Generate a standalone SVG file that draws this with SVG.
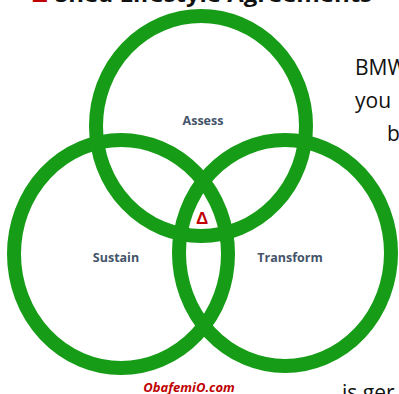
<svg xmlns="http://www.w3.org/2000/svg" width="399" height="394" viewBox="0 0 399 394">
<style>
.ring{fill:none;stroke:#169c16;stroke-width:14}
.lbl{font-family:"Open Sans","Liberation Sans",sans-serif;font-weight:bold;font-size:12.5px;fill:#44546a;text-anchor:middle}
.body{font-family:"Open Sans","Liberation Sans",sans-serif;font-size:21px;fill:#111}
</style>
<rect width="399" height="394" fill="#fff"/>
<g id="header">
<text x="32" y="2" font-family="Liberation Sans,sans-serif" font-weight="bold" font-size="22" fill="#c00000">Δ</text>
<text x="55" y="2" font-family="Open Sans,Liberation Sans,sans-serif" font-weight="bold" font-size="22" fill="#111" textLength="317" lengthAdjust="spacingAndGlyphs">Shed Lifestyle Agreements</text>
</g>
<g id="connectors"></g>
<g id="assess">
<ellipse class="ring" cx="201" cy="126" rx="105" ry="110"/>
<text class="lbl" x="203" y="125">Assess</text>
</g>
<g id="sustain">
<ellipse class="ring" cx="121" cy="254" rx="107" ry="114"/>
<text class="lbl" x="116" y="262">Sustain</text>
</g>
<g id="transform">
<ellipse class="ring" cx="285" cy="253" rx="106" ry="113"/>
<text class="lbl" x="290" y="262">Transform</text>
</g>
<g id="delta">
<text x="202" y="224" font-family="Liberation Sans,sans-serif" font-weight="bold" font-size="17" fill="#c00000" text-anchor="middle">Δ</text>
</g>
<g id="credit">
<text x="189" y="392" font-family="Open Sans,Liberation Sans,sans-serif" font-weight="bold" font-style="italic" font-size="13" fill="#c00000" text-anchor="middle">ObafemiO.com</text>
</g>
<g id="sidetext">
<text class="body" x="355" y="75">BMW</text>
<text class="body" x="355" y="108">you</text>
<text class="body" x="387" y="141">b</text>
<text class="body" x="342" y="400">is ger</text>
</g>
</svg>
